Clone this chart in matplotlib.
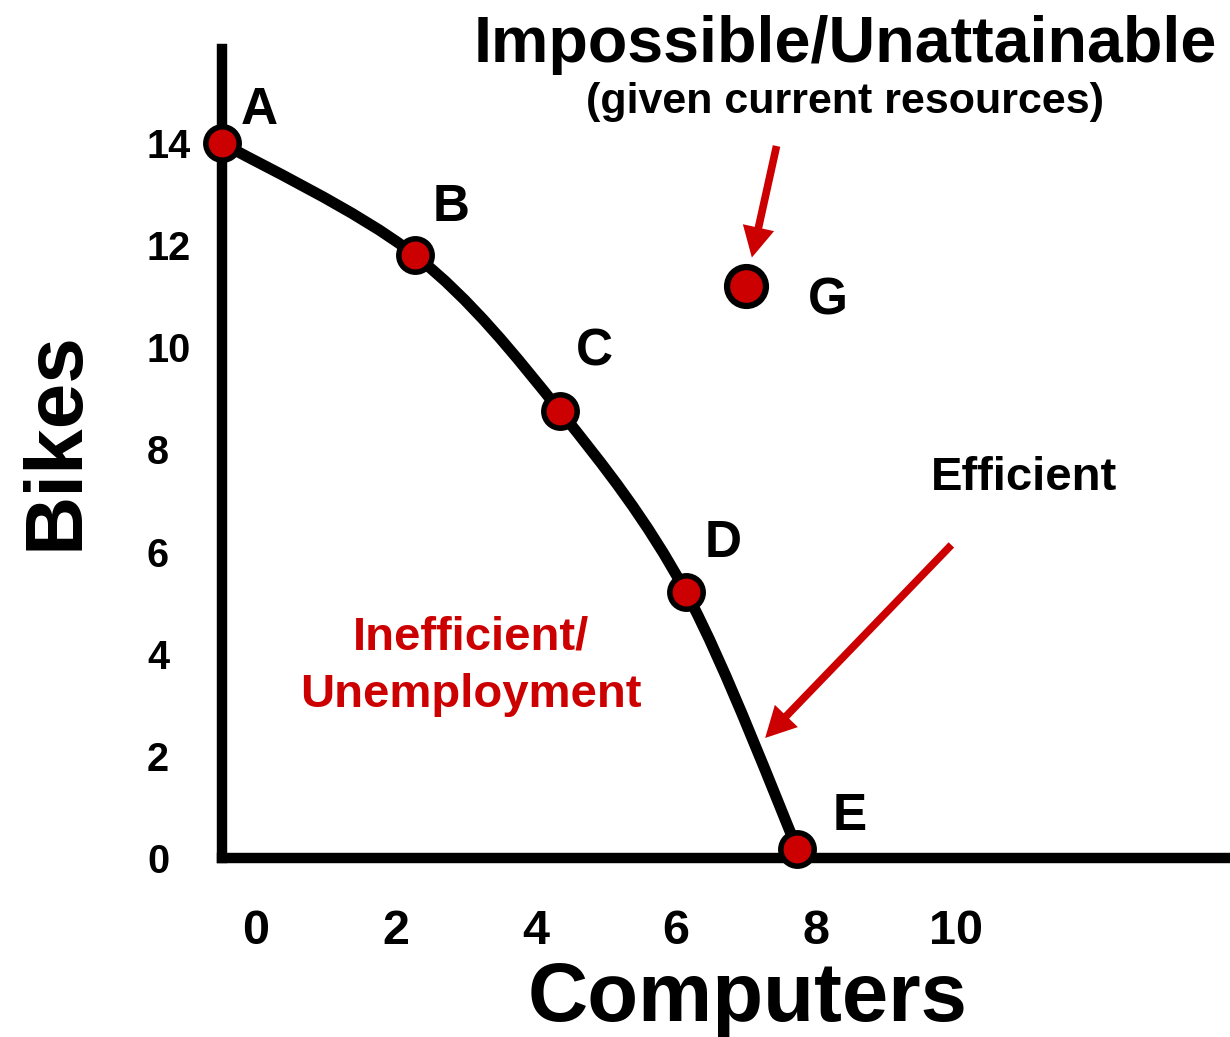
import numpy as np
import matplotlib.pyplot as plt
from matplotlib.path import Path
from matplotlib.patches import PathPatch

plt.rcParams['font.family'] = ['Liberation Sans', 'DejaVu Sans']
plt.rcParams['font.weight'] = 'bold'
plt.rcParams['axes.labelweight'] = 'bold'

# points on the frontier
point_names = ['A', 'B', 'C', 'D', 'E']
computers = [-0.48, 2.28, 4.35, 6.15, 7.74]
bikes = [14.0, 11.8, 8.75, 5.2, 0.18]

# point outside the frontier
g_name = 'G'
g_computers = 7.0
g_bikes = 11.2

x_ticks = [0, 2, 4, 6, 8, 10]
y_ticks = [0, 2, 4, 6, 8, 10, 12, 14]

RED = '#cc0000'
W, H = 1230, 1037

def fx(px):
    return px / W

def fy(py):
    return 1 - py / H

fig = plt.figure(figsize=(W / 100, H / 100), dpi=100)
ax = fig.add_axes([0, 0, 1, 1])
ax.set_xlim(-3.65, 13.92)
ax.set_ylim(-3.505, 16.80)

# axes drawn as thick spines meeting at the origin corner
ax.spines['top'].set_visible(False)
ax.spines['right'].set_visible(False)
ax.spines['left'].set_position(('data', computers[0]))
ax.spines['left'].set_bounds(0, 15.84)
ax.spines['bottom'].set_position(('data', 0))
ax.spines['bottom'].set_bounds(computers[0], 14)
for side in ['left', 'bottom']:
    ax.spines[side].set_linewidth(7.5)

ax.set_xticks(x_ticks)
ax.set_xticklabels([str(t) for t in x_ticks], fontsize=35)
ax.set_yticks(y_ticks)
ax.set_yticklabels([str(t) for t in y_ticks], fontsize=28.5, ha='left')
ax.tick_params(axis='x', length=0, pad=37)
ax.tick_params(axis='y', length=0, pad=54)

ax.set_xlabel('Computers', fontsize=60, va='baseline')
ax.xaxis.set_label_coords(fx(748), fy(1021))
ax.set_ylabel('Bikes', fontsize=59, va='baseline')
ax.yaxis.set_label_coords(fx(78), fy(441))

# smooth frontier through the points (catmull-rom -> bezier)
pts = np.column_stack([computers, bikes])
verts = [pts[0]]
codes = [Path.MOVETO]
for i in range(len(pts) - 1):
    p0 = pts[i - 1] if i > 0 else pts[i]
    p1, p2 = pts[i], pts[i + 1]
    p3 = pts[i + 2] if i + 2 < len(pts) else pts[i + 1]
    verts += [p1 + (p2 - p0) / 6, p2 - (p3 - p1) / 6, p2]
    codes += [Path.CURVE4] * 3
ax.add_patch(PathPatch(Path(verts, codes), facecolor='none', edgecolor='black',
                       lw=8, capstyle='round', zorder=3))

ax.plot(computers, bikes, 'o', ms=24, mfc=RED, mec='black', mew=4,
        zorder=4, clip_on=False)
ax.plot([g_computers], [g_bikes], 'o', ms=28, mfc=RED, mec='black', mew=4.5,
        zorder=4)

label_offsets = [(26.6, 23.6), (26, 34.4), (24.5, 42.4), (26.6, 35.2), (37.4, 23.6)]
for name, x, y, off in zip(point_names, computers, bikes, label_offsets):
    ax.annotate(name, (x, y), xytext=off, textcoords='offset points',
                ha='center', va='center', fontsize=37)
ax.annotate(g_name, (g_computers, g_bikes), xytext=(59, -11),
            textcoords='offset points', ha='center', va='center', fontsize=37)

# arrows
arrow_style = 'simple,head_length=2.2,head_width=2.3,tail_width=0.55'
ax.annotate('', xy=(g_computers, g_bikes), xytext=(22.3, 100.8),
            textcoords='offset points',
            arrowprops=dict(arrowstyle=arrow_style, mutation_scale=10,
                            fc=RED, ec='none', lw=0, shrinkA=0, shrinkB=21))
ax.annotate('', xy=(7.28, 2.35), xytext=(9.94, 6.13),
            arrowprops=dict(arrowstyle=arrow_style, mutation_scale=10,
                            fc=RED, ec='none', lw=0, shrinkA=0, shrinkB=0))

fig.text(fx(845), fy(62), 'Impossible/Unattainable', fontsize=46.5,
         ha='center', va='baseline')
fig.text(fx(845), fy(113), '(given current resources)', fontsize=31,
         ha='center', va='baseline')
fig.text(fx(1024), fy(490), 'Efficient', fontsize=34, ha='center', va='baseline')
fig.text(fx(471), fy(650), 'Inefficient/', fontsize=34, color=RED,
         ha='center', va='baseline')
fig.text(fx(471), fy(707), 'Unemployment', fontsize=34, color=RED,
         ha='center', va='baseline')

fig.savefig('out.png', dpi=100)
